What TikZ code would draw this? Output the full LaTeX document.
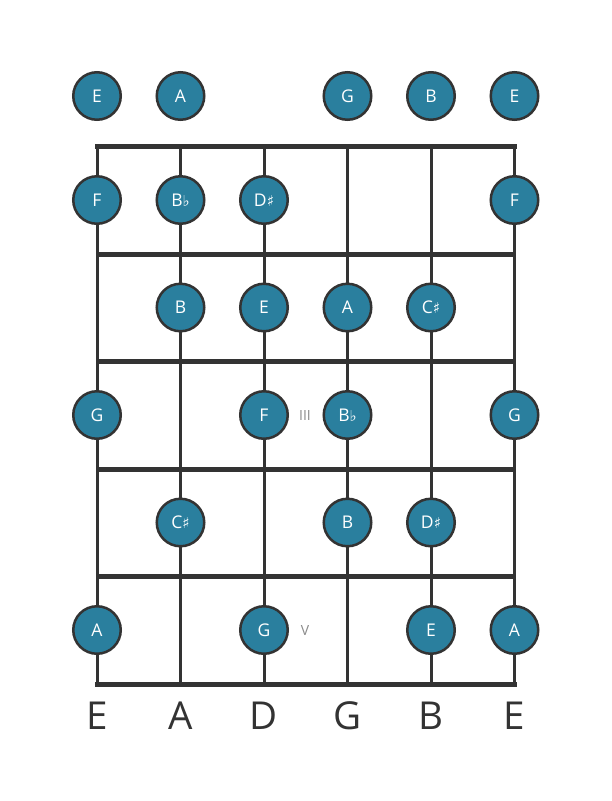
\documentclass[tikz,border=0pt]{standalone}
\usepackage{fontspec}
\setmainfont{Open Sans}
\newfontfamily\accfont{DejaVu Sans}
\newcommand{\fl}{{\accfont\fontsize{15}{15}\selectfont ♭}}
\newcommand{\sh}{{\accfont\fontsize{15}{15}\selectfont ♯}}
\usepackage{tikz}
\usetikzlibrary{positioning}
\definecolor{notefill}{HTML}{2A7F9E}
\definecolor{boardline}{HTML}{333333}
\definecolor{markgray}{HTML}{8A8A8A}
\tikzstyle{notedot} = [circle, draw=boardline, line width=2.5pt, fill=notefill, text=white,
    minimum size=47.5pt, inner sep=0pt, font=\fontsize{17.5}{17.5}\selectfont]
\tikzstyle{fretline} = [draw=boardline, line width=5pt]
\tikzstyle{stringline} = [draw=boardline, line width=3pt]
\tikzstyle{stringname} = [text=boardline, font=\fontsize{38.5}{38.5}\selectfont]
\tikzstyle{fretmark} = [text=markgray, font=\fontsize{14}{14}\selectfont]
\begin{document}
\begin{tikzpicture}[x=1pt, y=-1pt]
    \useasboundingbox (0,0) rectangle (611,801);
    % Board corners and string ends
    \coordinate (nut1) at (97,146.5);
    \coordinate (nut2) at (180.5,146.5);
    \coordinate (nut3) at (264,146.5);
    \coordinate (nut4) at (347.5,146.5);
    \coordinate (nut5) at (431,146.5);
    \coordinate (nut6) at (514.5,146.5);
    \coordinate (end1) at (97,684);
    \coordinate (end2) at (180.5,684);
    \coordinate (end3) at (264,684);
    \coordinate (end4) at (347.5,684);
    \coordinate (end5) at (431,684);
    \coordinate (end6) at (514.5,684);
    \coordinate (fretL1) at (97,254);
    \coordinate (fretR1) at (514.5,254);
    \coordinate (fretL2) at (97,361.5);
    \coordinate (fretR2) at (514.5,361.5);
    \coordinate (fretL3) at (97,469);
    \coordinate (fretR3) at (514.5,469);
    \coordinate (fretL4) at (97,576.5);
    \coordinate (fretR4) at (514.5,576.5);

    % Draw strings
    \path [stringline] (nut1) -- (end1);
    \path [stringline] (nut2) -- (end2);
    \path [stringline] (nut3) -- (end3);
    \path [stringline] (nut4) -- (end4);
    \path [stringline] (nut5) -- (end5);
    \path [stringline] (nut6) -- (end6);

    % Draw frets
    \path [fretline, line cap=rect] (nut1) -- (nut6);
    \path [fretline] (fretL1) -- (fretR1);
    \path [fretline] (fretL2) -- (fretR2);
    \path [fretline] (fretL3) -- (fretR3);
    \path [fretline] (fretL4) -- (fretR4);
    \path [fretline, line cap=rect] (end1) -- (end6);

    % Open strings
    \node [notedot, at={(97,96)}] (open1) {E};
    \node [notedot, at={(180.5,96)}] (open2) {A};
    \node [notedot, at={(347.5,96)}] (open4) {G};
    \node [notedot, at={(431,96)}] (open5) {B};
    \node [notedot, at={(514.5,96)}] (open6) {E};

    % Fret 1
    \node [notedot, at={(97,200)}] (f1s1) {F};
    \node [notedot, at={(180.5,200)}] (f1s2) {B\fl};
    \node [notedot, at={(264,200)}] (f1s3) {D\sh};
    \node [notedot, at={(514.5,200)}] (f1s6) {F};

    % Fret 2
    \node [notedot, at={(180.5,307.5)}] (f2s2) {B};
    \node [notedot, at={(264,307.5)}] (f2s3) {E};
    \node [notedot, at={(347.5,307.5)}] (f2s4) {A};
    \node [notedot, at={(431,307.5)}] (f2s5) {C\sh};

    % Fret 3
    \node [notedot, at={(97,415)}] (f3s1) {G};
    \node [notedot, at={(264,415)}] (f3s3) {F};
    \node [notedot, at={(347.5,415)}] (f3s4) {B\fl};
    \node [notedot, at={(514.5,415)}] (f3s6) {G};
    \node [fretmark, at={(305,415)}] (mark3) {III};

    % Fret 4
    \node [notedot, at={(180.5,522.5)}] (f4s2) {C\sh};
    \node [notedot, at={(347.5,522.5)}] (f4s4) {B};
    \node [notedot, at={(431,522.5)}] (f4s5) {D\sh};

    % Fret 5
    \node [notedot, at={(97,630)}] (f5s1) {A};
    \node [notedot, at={(264,630)}] (f5s3) {G};
    \node [notedot, at={(431,630)}] (f5s5) {E};
    \node [notedot, at={(514.5,630)}] (f5s6) {A};
    \node [fretmark, at={(305,630)}] (mark5) {V};

    % String names
    \node [stringname, at={(97,716)}] (name1) {E};
    \node [stringname, at={(180.5,716)}] (name2) {A};
    \node [stringname, at={(264,716)}] (name3) {D};
    \node [stringname, at={(347.5,716)}] (name4) {G};
    \node [stringname, at={(431,716)}] (name5) {B};
    \node [stringname, at={(514.5,716)}] (name6) {E};
\end{tikzpicture}
\end{document}
